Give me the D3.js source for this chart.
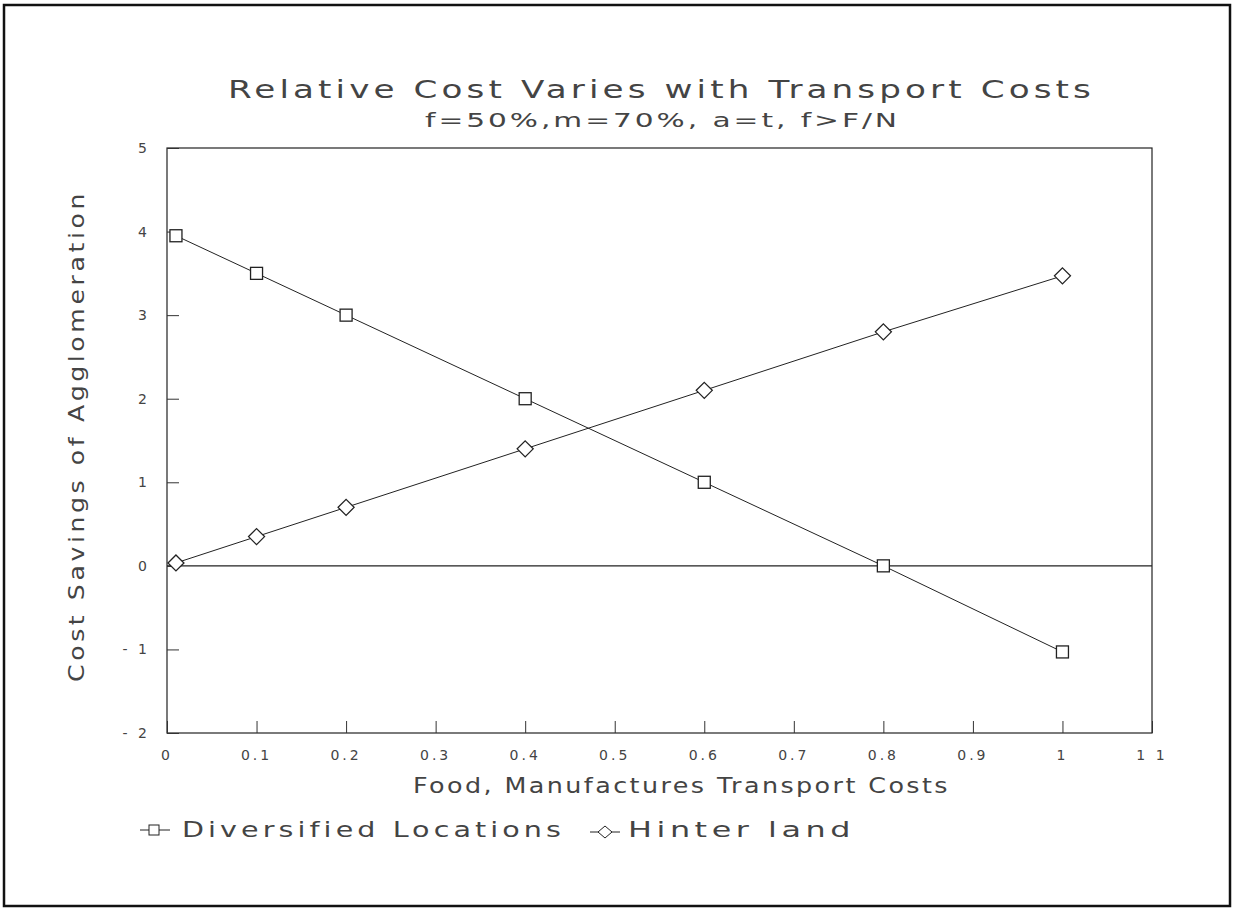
<!DOCTYPE html>
<html><head><meta charset="utf-8">
<script src="https://cdn.jsdelivr.net/npm/d3@7"></script>
<style>
html,body{margin:0;padding:0;background:#fff;}
text{font-family:"DejaVu Sans",sans-serif;fill:#444;font-weight:normal;}
</style></head>
<body>
<svg id="c" width="1234" height="911"></svg>
<script>
const title = "Relative Cost Varies with Transport Costs";
const subtitle = "f=50%,m=70%, a=t, f>F/N";
const xLabel = "Food, Manufactures Transport Costs";
const yLabel = "Cost Savings of Agglomeration";
const xValues = [0.01, 0.1, 0.2, 0.4, 0.6, 0.8, 1.0];
const diversified = [3.95, 3.5, 3.0, 2.0, 1.0, 0.0, -1.03];
const hinterland = [0.035, 0.35, 0.7, 1.4, 2.1, 2.8, 3.47];
const xTicks = [0, 0.1, 0.2, 0.3, 0.4, 0.5, 0.6, 0.7, 0.8, 0.9, 1, 1.1];
const yTicks = [-2, -1, 0, 1, 2, 3, 4, 5];
const seriesNames = ["Diversified Locations", "Hinter land"];

const svg = d3.select("#c");
const L = 167, R = 1152, T = 148, B = 733;
const x = d3.scaleLinear().domain([0, 1.1]).range([L, R]);
const y = d3.scaleLinear().domain([-2, 5]).range([B, T]);

// outer border
svg.append("rect").attr("x", 4).attr("y", 5).attr("width", 1226).attr("height", 901)
  .attr("fill", "none").attr("stroke", "#111").attr("stroke-width", 2.5);

// plot frame
svg.append("rect").attr("x", L).attr("y", T).attr("width", R - L).attr("height", B - T)
  .attr("fill", "none").attr("stroke", "#222").attr("stroke-width", 1.2);

// axes (inward ticks)
const xAxis = d3.axisTop(x).tickValues(xTicks).tickSize(12).tickFormat("");
const gx = svg.append("g").attr("transform", `translate(0,${B})`).call(xAxis);
gx.select(".domain").remove();
gx.selectAll("line").attr("stroke", "#333");
const yAxis = d3.axisRight(y).tickValues(yTicks).tickSize(12).tickFormat("");
const gy = svg.append("g").attr("transform", `translate(${L},0)`).call(yAxis);
gy.select(".domain").remove();
gy.selectAll("line").attr("stroke", "#333");

// tick labels
svg.append("g").selectAll("text").data(xTicks).join("text")
  .attr("x", d => x(d)).attr("y", 760).attr("text-anchor", "middle")
  .attr("font-size", 14).attr("letter-spacing", 3)
  .text(d => d === 1.1 ? "1 1" : d3.format("~g")(d));
svg.append("g").selectAll("text").data(yTicks).join("text")
  .attr("x", 150).attr("y", d => y(d) + 5).attr("text-anchor", "end")
  .attr("font-size", 14).attr("letter-spacing", 3)
  .text(d => d < 0 ? "- " + Math.abs(d) : d);

// zero line
svg.append("line").attr("x1", L).attr("x2", R).attr("y1", y(0)).attr("y2", y(0))
  .attr("stroke", "#222").attr("stroke-width", 1.2);

// lines
const line = d3.line().x(d => x(d[0])).y(d => y(d[1]));
const dData = xValues.map((v, i) => [v, diversified[i]]);
const hData = xValues.map((v, i) => [v, hinterland[i]]);
svg.append("path").attr("d", line(dData)).attr("fill", "none").attr("stroke", "#222").attr("stroke-width", 1);
svg.append("path").attr("d", line(hData)).attr("fill", "none").attr("stroke", "#222").attr("stroke-width", 1);

// markers
const sq = 12, dm = 8;
svg.append("g").selectAll("rect").data(dData).join("rect")
  .attr("x", d => x(d[0]) - sq / 2).attr("y", d => y(d[1]) - sq / 2)
  .attr("width", sq).attr("height", sq).attr("fill", "#fff").attr("stroke", "#222").attr("stroke-width", 1.3);
const diamond = (cx, cy) => `M${cx},${cy - dm}L${cx + dm},${cy}L${cx},${cy + dm}L${cx - dm},${cy}Z`;
svg.append("g").selectAll("path").data(hData).join("path")
  .attr("d", d => diamond(x(d[0]), y(d[1]))).attr("fill", "#fff").attr("stroke", "#222").attr("stroke-width", 1.3);

// titles (glyphs stretched to the plotter-font width)
function fitText(sel, len, ls) {
  return sel.attr("textLength", len).attr("lengthAdjust", "spacingAndGlyphs").attr("letter-spacing", ls);
}
fitText(svg.append("text").attr("x", 228).attr("y", 98).attr("font-size", 25), 867, 3).text(title);
fitText(svg.append("text").attr("x", 425).attr("y", 127).attr("font-size", 20), 475, 2).text(subtitle);
fitText(svg.append("text").attr("x", 413).attr("y", 793).attr("font-size", 21), 537, 2).text(xLabel);
fitText(svg.append("text").attr("transform", "translate(84,682) rotate(-90)").attr("font-size", 21), 492, 3).text(yLabel);

// legend
const ly = 830;
svg.append("line").attr("x1", 140).attr("x2", 170).attr("y1", ly).attr("y2", ly).attr("stroke", "#222");
svg.append("rect").attr("x", 149).attr("y", ly - 5).attr("width", 10).attr("height", 10)
  .attr("fill", "#fff").attr("stroke", "#222");
fitText(svg.append("text").attr("x", 182).attr("y", ly + 7).attr("font-size", 21), 383, 3).text(seriesNames[0]);
svg.append("line").attr("x1", 590).attr("x2", 620).attr("y1", ly + 2).attr("y2", ly + 2).attr("stroke", "#222");
svg.append("path").attr("d", `M605,${ly - 4}L612,${ly + 2}L605,${ly + 8}L598,${ly + 2}Z`)
  .attr("fill", "#fff").attr("stroke", "#222");
fitText(svg.append("text").attr("x", 628).attr("y", ly + 7).attr("font-size", 21), 227, 3).text(seriesNames[1]);
</script>
</body></html>
